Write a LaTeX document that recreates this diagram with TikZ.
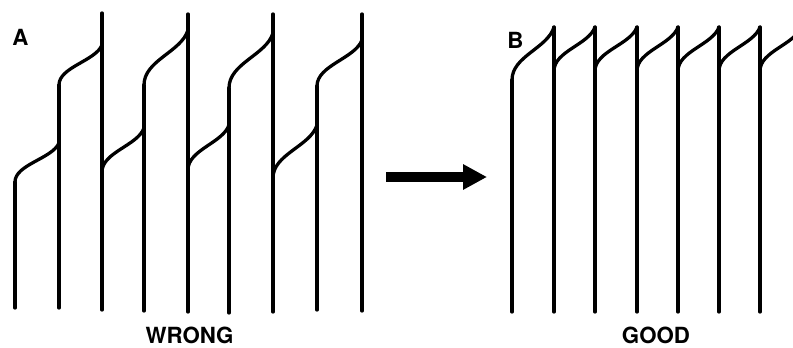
\documentclass[tikz,border=0pt]{standalone}
\usepackage{fontspec}
\setsansfont{TeX Gyre Heros}
\usetikzlibrary{arrows.meta}

% one rising slope: bottom (#1,#2) to top (#3,#4), pixel units
\newcommand{\wave}[4]{%
  \pgfmathsetmacro\wavew{#3-(#1)}%
  \pgfmathsetmacro\waveh{#2-(#4)}%
  \draw[fiber,shift={(#1,#2)},xscale=\wavew,yscale=\waveh]
    (0,0) .. controls (0,-0.45) and (0.85,-0.6) .. (1,-1);}

\begin{document}
\begin{tikzpicture}[x=0.03cm,y=-0.03cm,
  fiber/.style={line width=2.8pt,line cap=round,line join=round},
  lbl/.style={font=\sffamily\bfseries\fontsize{19}{19}\selectfont,inner sep=0pt},
  push/.style={line width=7.7pt,-{Triangle[length=0.72cm,width=0.72cm]}}
]
  \useasboundingbox (0,0) rectangle (793,348);

  % panel A
  \node[lbl](labA) at (20.5,37) {A};
  \foreach \x/\top/\bot in {15/182/308, 59/85/308, 102/13/310, 144/85/311,
      188/14/312, 229/88/313, 273/14/312, 317/86/310, 362/14/311}
    \draw[fiber] (\x,\top) -- (\x,\bot);
  \foreach \xa/\ya/\xb/\yb in {15/182/59/143, 59/85/102/45, 102/172/144/128,
      144/85/188/30, 188/170/229/125, 229/88/273/33, 273/178/317/125, 317/86/362/40}
    \wave{\xa}{\ya}{\xb}{\yb};
  \node[lbl](wrong) at (189.5,335) {WRONG};

  % arrow between panels
  \coordinate (from) at (386,177);
  \coordinate (to)   at (487,177);
  \draw[push](from)--(to);

  % panel B
  \node[lbl](labB) at (515.5,40) {B};
  \draw[fiber] (512,80) -- (512,312);
  \foreach \x in {554,595,637,678,719,760}
    \draw[fiber] (\x,27) -- (\x,312);
  \wave{512}{80}{554}{27};
  \foreach \xa/\xb in {554/595, 595/637, 637/678, 678/719, 719/760, 760/801}
    \wave{\xa}{71}{\xb}{27};
  \node[lbl](good) at (656,335) {GOOD};
\end{tikzpicture}
\end{document}
